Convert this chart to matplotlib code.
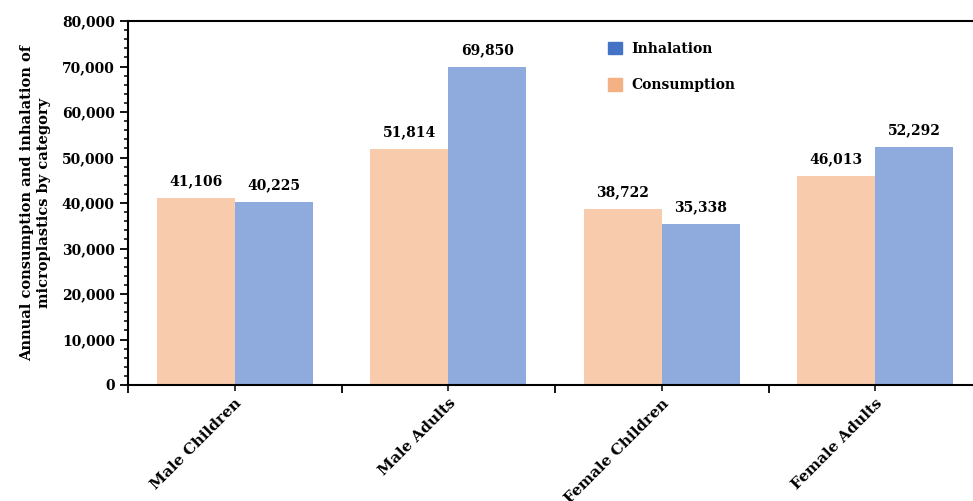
import numpy as np
import matplotlib
matplotlib.use("Agg")
import matplotlib.pyplot as plt
from matplotlib.ticker import MultipleLocator, FuncFormatter, FixedLocator
from matplotlib.patches import Patch

categories = ["Male Children", "Male Adults", "Female Children", "Female Adults"]
consumption = [41106, 51814, 38722, 46013]
inhalation = [40225, 69850, 35338, 52292]

plt.rcParams["font.family"] = "DejaVu Serif"
plt.rcParams["font.weight"] = "bold"

fig = plt.figure(figsize=(9.73, 5.01), dpi=100)
ax = fig.add_axes([128 / 973, 116 / 501, 845 / 973, 364 / 501])

x = np.arange(len(categories))
w = 0.365
ax.bar(x - w / 2, consumption, w, color="#F8CBAD")
ax.bar(x + w / 2, inhalation, w, color="#8FAADC")

for xi, v in zip(x - w / 2, consumption):
    ax.text(xi, v + 3700, f"{v:,}", ha="center", va="center", fontsize=10, fontweight="bold")
for xi, v in zip(x + w / 2, inhalation):
    ax.text(xi, v + 3700, f"{v:,}", ha="center", va="center", fontsize=10, fontweight="bold")

ax.set_ylim(0, 80000)
ax.set_xlim(-0.5, -0.5 + 845 / 213.5)
ax.yaxis.set_major_locator(MultipleLocator(10000))
ax.yaxis.set_minor_locator(MultipleLocator(2000))
ax.yaxis.set_major_formatter(FuncFormatter(lambda v, p: f"{int(v):,}"))
ax.tick_params(axis="y", which="major", length=6, width=1.3, labelsize=10)
ax.tick_params(axis="y", which="minor", length=3, width=1.1)

ax.xaxis.set_major_locator(FixedLocator([-0.5, 0.5, 1.5, 2.5, 3.5]))
ax.xaxis.set_major_formatter(FuncFormatter(lambda v, p: ""))
ax.set_xticks(x, minor=True)
ax.set_xticklabels(categories, minor=True, rotation=45, ha="right", rotation_mode="anchor")
ax.tick_params(axis="x", which="major", length=6, width=1.3)
ax.tick_params(axis="x", which="minor", length=4, width=1.1, labelsize=11, pad=4)

for s in ["left", "bottom", "top"]:
    ax.spines[s].set_linewidth(1.5)
ax.spines["right"].set_visible(False)

ax.set_ylabel("Annual consumption and inhalation of\nmicroplastics by category",
              fontsize=10.5, fontweight="bold", labelpad=8)

handles = [Patch(color="#4472C4"), Patch(color="#F4B183")]
ax.legend(handles, ["Inhalation", "Consumption"], loc="upper left",
          bbox_to_anchor=(0.553, 0.978), frameon=False, fontsize=10,
          handlelength=1.0, handleheight=1.0, labelspacing=1.65, handletextpad=0.7)

fig.savefig("out.png", dpi=100)
